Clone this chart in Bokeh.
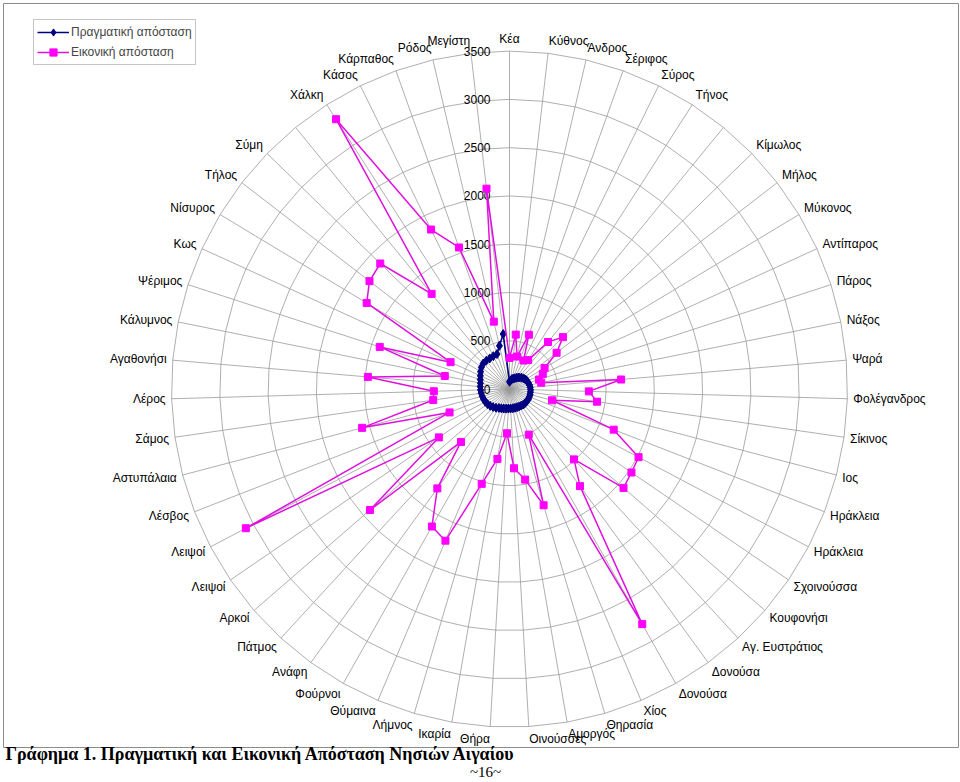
import numpy as np
from bokeh.plotting import figure
from bokeh.models import Range1d, ColumnDataSource, Legend, LegendItem, Label
from bokeh.embed import file_html
from bokeh.resources import INLINE
from bokeh.core.properties import value

# ---- data (clockwise from the top spoke; "" = label hidden in the original) ----
islands = ["Κέα", "Κύθνος", "Άνδρος", "Σέριφος", "Σύρος", "Τήνος", "",
           "Κίμωλος", "Μήλος", "Μύκονος", "Αντίπαρος", "Πάρος", "Νάξος", "Ψαρά",
           "Φολέγανδρος", "Σίκινος", "Ιος", "Ηράκλεια", "Ηράκλεια", "Σχοινούσσα",
           "Κουφονήσι", "Αγ. Ευστράτιος", "Δονούσα", "Δονούσα", "Χίος", "Θηρασία",
           "Αμοργός", "Οινούσσες", "Θήρα", "Ικαρία", "Λήμνος", "Θύμαινα", "Φούρνοι",
           "Ανάφη", "Πάτμος", "Αρκοί", "Λειψοί", "Λειψοί", "Λέσβος", "Αστυπάλαια",
           "Σάμος", "Λέρος", "Αγαθονήσι", "Κάλυμνος", "Ψέριμος", "Κως", "Νίσυρος",
           "Τήλος", "Σύμη", "", "Χάλκη", "Κάσος", "Κάρπαθος", "Ρόδος", "Μεγίστη"]

real_distance = [76, 90, 105, 115, 125, 140, 155, 170, 182, 192,
                 200, 206, 211, 215, 218, 219, 220, 221, 221, 219,
                 217, 215, 210, 206, 203, 202, 201, 201, 202, 205,
                 210, 216, 224, 238, 252, 265, 275, 283, 288, 292,
                 296, 300, 304, 307, 318, 332, 350, 368, 380, 380,
                 378, 380, 385, 460, 574]

virtual_distance = [323, 568, 346, 598, 330, 357, 630, 772, 616, 424,
                    379, 321, 335, 1160, 822, 916, 456, 1158, 1511, 1530,
                    1562, 988, 1242, 2795, 512, 1254, 951, 821, 458, 734,
                    1022, 1704, 1634, 1271, 743, 1912, 886, 3087, 666, 1578,
                    798, 784, 1472, 684, 1413, 671, 1727, 1831, 1866, 1274,
                    3322, 1841, 1557, 717, 2089]

ring_values = [500, 1000, 1500, 2000, 2500, 3000, 3500]
tick_values = [0, 500, 1000, 1500, 2000, 2500, 3000, 3500]
tick_labels = ["0", "500", "1000", "1500", "2000", "2500", "3000", "3500"]

series_names = ["Πραγματική απόσταση", "Εικονική απόσταση"]
caption = "Γράφημα 1. Πραγματική και Εικονική Απόσταση Νησιών Αιγαίου"
page_no = "~16~"

# ---- layout constants ----
W, H = 960, 782
CX, CY = 509, 388.6          # centre of the radar in pixels
K = 338.0 / 3500.0           # pixels per unit
GRID = "#9a9a9a"
FONT = "Liberation Sans"

def px_x(px):
    return (px - CX) / K

def px_y(py):
    return (CY - py) / K

N = len(islands)
theta = np.arange(N) * 2 * np.pi / N
sin_t, cos_t = np.sin(theta), np.cos(theta)

p = figure(width=W, height=H, output_backend="svg", toolbar_location=None,
           x_range=Range1d(px_x(0), px_x(W)), y_range=Range1d(px_y(H), px_y(0)),
           x_axis_type=None, y_axis_type=None, min_border=0)
p.outline_line_color = None
p.background_fill_color = "white"
p.border_fill_color = "white"

# chart frame
p.quad(left=px_x(3), right=px_x(958), top=px_y(3), bottom=px_y(747),
       fill_color=None, line_color="#8c8c8c", line_width=1)

# spokes
outer = ring_values[-1]
p.segment(x0=np.zeros(N), y0=np.zeros(N), x1=outer * sin_t, y1=outer * cos_t,
          line_color=GRID, line_width=0.8)

# rings (polygons)
xs, ys = [], []
for v in ring_values:
    xs.append(list(v * np.append(sin_t, sin_t[0])))
    ys.append(list(v * np.append(cos_t, cos_t[0])))
p.multi_line(xs=xs, ys=ys, line_color=GRID, line_width=0.8)

# radial tick labels
p.text(x=[0] * len(tick_values), y=tick_values, text=tick_labels, x_offset=-19,
       text_align="right", text_baseline="middle", text_font=value(FONT),
       text_font_size="12px", text_color="black")

# category labels
R_lab = 344 / K
lx = R_lab * sin_t
ly = R_lab * cos_t + (6 / K) * cos_t
for align, mask in (("center", np.abs(sin_t) < 0.02),
                    ("left", sin_t >= 0.02),
                    ("right", sin_t <= -0.02)):
    idx = np.where(mask)[0]
    src = ColumnDataSource(dict(x=lx[idx], y=ly[idx], t=[islands[i] for i in idx]))
    p.text(x="x", y="y", text="t", source=src, text_align=align,
           text_baseline="middle", text_font=value(FONT), text_font_size="12px",
           text_color="black")

# series
def closed(vals):
    v = np.array(vals, dtype=float)
    return list(v * sin_t) + [v[0] * sin_t[0]], list(v * cos_t) + [v[0] * cos_t[0]]

rx, ry = closed(real_distance)
l1 = p.line(rx, ry, line_color="#000080", line_width=1.6)
m1 = p.scatter(rx[:-1], ry[:-1], marker="diamond", size=9, fill_color="#000080",
               line_color="#000080")

vx, vy = closed(virtual_distance)
l2 = p.line(vx, vy, line_color="#E010E0", line_width=1.5)
m2 = p.scatter(vx[:-1], vy[:-1], marker="square", size=7, fill_color="#FF00FF",
               line_color="#FF00FF")

legend = Legend(items=[LegendItem(label=series_names[0], renderers=[l1, m1]),
                       LegendItem(label=series_names[1], renderers=[l2, m2])],
                location=(33, H - 65))
legend.border_line_color = "#8c8c8c"
legend.border_line_width = 1
legend.background_fill_color = "white"
legend.background_fill_alpha = 1
legend.label_text_font = FONT
legend.label_text_font_size = "12px"
legend.glyph_width = 32
legend.glyph_height = 18
legend.label_height = 18
legend.label_standoff = 2
legend.spacing = 2
legend.padding = 3
legend.margin = 0
p.add_layout(legend)

# caption and page number
p.add_layout(Label(x=px_x(5), y=px_y(753), text=caption, text_font="Liberation Serif",
                   text_font_style="bold", text_font_size="18px",
                   text_baseline="middle", text_color="black"))
p.add_layout(Label(x=px_x(485), y=px_y(771), text=page_no, text_font="Liberation Serif",
                   text_font_size="15px", text_align="center",
                   text_baseline="middle", text_color="black"))

open("out.html", "w").write(file_html(p, INLINE))
